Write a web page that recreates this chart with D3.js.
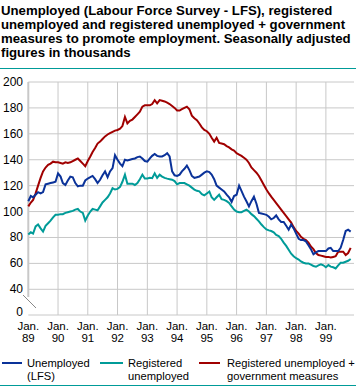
<!DOCTYPE html>
<html>
<head>
<meta charset="utf-8">
<script src="https://cdn.jsdelivr.net/npm/d3@7"></script>
<style>
  body { margin: 0; background: #fff; }
  text { font-family: "Liberation Sans", Arial, sans-serif; fill: #000; }
</style>
</head>
<body>
<script>
// monthly figures, Jan 1989 - Nov 1999 (thousands)
var lfs = [
  108, 112, 111, 113, 115, 114, 115, 121, 121.5, 122, 122.5, 123,
  129.5, 127, 122, 120.5, 124, 127, 126.5, 122, 119.5, 120, 120, 124,
  125.5, 126.5, 127.5, 125, 122, 124.5, 128, 131, 126.5, 131, 133.5, 143.5,
  140, 137, 135, 140, 139.5, 140, 140.5, 141, 142, 142.5, 141, 139,
  138.5, 141, 143, 144.5, 143, 142.5, 142.5, 143.5, 145, 142.5, 131, 128,
  127.5, 128.5, 131, 133, 135.5, 132, 127.5, 126, 126.5, 127, 128.5, 130,
  131, 130.5, 128.5, 125, 120, 118.5, 117, 115.5, 113, 111, 107.5, 112,
  113, 120, 116, 111.5, 108, 104, 108, 111.5, 106, 99, 98.5, 98,
  97.5, 96, 94, 95, 97, 94, 92, 92, 89, 86, 90, 87,
  83, 79, 78, 78, 77, 74, 71, 67, 68.5, 69.5, 69.5, 69.5,
  69.5, 71.5, 72, 69.5, 69.5, 69.5, 72, 78, 85, 86, 84.5
];
var registered = [
  82.3, 84, 83, 88.5, 90, 87, 84.5, 89, 91, 93, 95.5, 97.5,
  97.5, 98, 98, 99, 99.5, 100, 100.5, 101.5, 102, 100, 99, 93,
  97, 100, 102, 101.5, 101, 104, 107, 109, 111, 114, 118, 117,
  117.5, 119, 123, 128.5, 121.5, 121.5, 121.5, 120.5, 122, 125, 128.5, 125.5,
  125.5, 126, 125.8, 129.5, 126, 128.5, 127, 126, 125.4, 125, 124.6, 123.5,
  121, 122, 122, 122, 121, 120, 118.5, 117, 116, 115.6, 113.5, 112.5,
  114, 115.5, 111, 109, 111, 113, 109.5, 109, 108, 106.7, 104, 101.5,
  100, 99.5, 99.5, 100.5, 101.5, 100, 98, 96.5, 94.5, 92.5, 90, 88,
  86.2, 85.5, 85, 84, 82, 81, 79, 76, 73.5, 70.5, 67.5, 65.5,
  64, 63, 61.5, 60.5, 60, 60, 59, 58, 57.4, 58.5, 59.2, 58.5,
  57, 58.7, 57.5, 57, 56.1, 58.5, 60.5, 60.5, 61.3, 62, 63.4
];
var regPlusMeasures = [
  104, 107, 109, 114, 120, 126, 131, 134, 136, 137, 138.5, 138,
  138, 137.5, 137, 138, 137.5, 138, 139, 140, 141, 139, 137, 135,
  139, 142.5, 146, 149, 152.5, 154, 156, 158, 159.5, 160.5, 161.5, 162.5,
  163, 164, 166, 173, 168, 170, 171, 173, 175, 177, 181, 182,
  182, 182, 183, 186, 183.5, 186, 185.5, 185, 184, 183, 181.5, 180,
  178, 178, 179, 180, 181, 179, 174, 172, 170.5, 168, 165, 163,
  162, 160, 157, 154, 157, 153, 152.5, 152, 150.5, 149.5, 148, 147,
  145, 144, 143, 141.5, 140, 137.5, 134, 132, 130, 127.5, 124, 120.5,
  117, 114, 111.5, 109, 106.5, 104, 101.5, 99, 96.5, 94, 91.5, 88,
  85, 83, 80.5, 79, 78, 76, 73, 71, 68, 66.5, 66, 65.5,
  65, 65, 64.5, 65, 65.5, 69, 69, 69, 66.5, 68, 72
];
var yearLabels = ["89", "90", "91", "92", "93", "94", "95", "96", "97", "98", "99"];
var yTicks = [0, 40, 60, 80, 100, 120, 140, 160, 180, 200];
var titleLines = [
  "Unemployed (Labour Force Survey - LFS), registered",
  "unemployed and registered unemployed + government",
  "measures to promote employment. Seasonally adjusted",
  "figures in thousands"
];
var seriesNames = [["Unemployed", "(LFS)"], ["Registered", "unemployed"], ["Registered unemployed +", "government measures"]];

var W = 361, H = 387;
var teal = "#009b98", blue = "#0a3299", red = "#a00000", grid = "#c8c8c8";

var svg = d3.select("body").append("svg")
  .attr("width", W)
  .attr("height", H);

var x = d3.scaleTime()
  .domain([new Date(1989, 0, 1), new Date(1999, 11, 12)])
  .range([28.3, 354]);
// broken axis: 0 sits where 20 would be
var y = d3.scaleLinear()
  .domain([0, 40, 200])
  .range([315, 289.3, 82]);

// title
svg.append("g").selectAll("text")
  .data(titleLines)
  .enter().append("text")
  .attr("x", 1)
  .attr("y", function (d, i) { return 15 + i * 14; })
  .style("font-size", "13.2px")
  .style("font-weight", "bold")
  .text(function (d) { return d; });

svg.append("line")
  .attr("x1", 0).attr("x2", 356)
  .attr("y1", 68.5).attr("y2", 68.5)
  .style("stroke", teal).style("stroke-width", 1.2);

// grid
var years = yearLabels.map(function (d, i) { return new Date(1989 + i, 0, 1); });
svg.append("g").selectAll("line")
  .data(years.slice(1))
  .enter().append("line")
  .attr("x1", function (d) { return x(d); })
  .attr("x2", function (d) { return x(d); })
  .attr("y1", y(200)).attr("y2", y(0))
  .style("stroke", grid).style("stroke-width", 1);

svg.append("g").selectAll("line")
  .data(yTicks)
  .enter().append("line")
  .attr("x1", x.range()[0]).attr("x2", x.range()[1])
  .attr("y1", function (d) { return y(d); })
  .attr("y2", function (d) { return y(d); })
  .style("stroke", grid).style("stroke-width", 1);

// left axis with break
svg.append("line")
  .attr("x1", 28.3).attr("x2", 28.3)
  .attr("y1", y(200)).attr("y2", 297)
  .style("stroke", grid).style("stroke-width", 2);
var brk = svg.append("g");
[0, 3].forEach(function (o) {
  brk.append("line")
    .attr("x1", 23 + o).attr("y1", 298 + o - 3)
    .attr("x2", 33 + o).attr("y2", 308 + o - 3)
    .style("stroke", "#888").style("stroke-width", 1);
});

// y labels
svg.append("g").selectAll("text")
  .data(yTicks)
  .enter().append("text")
  .attr("x", 23)
  .attr("y", function (d) { return y(d) + (d === 0 ? 1 : 4); })
  .attr("text-anchor", "end")
  .style("font-size", "12px")
  .text(function (d) { return d; });

// x labels
var xl = svg.append("g").selectAll("text")
  .data(yearLabels)
  .enter().append("text")
  .attr("text-anchor", "middle")
  .style("font-size", "11.5px");
xl.append("tspan")
  .attr("x", function (d, i) { return x(years[i]); })
  .attr("y", 329.5)
  .text("Jan.");
xl.append("tspan")
  .attr("x", function (d, i) { return x(years[i]); })
  .attr("y", 342)
  .text(function (d) { return d; });

// lines
var line = d3.line()
  .x(function (d, i) { return x(new Date(1989, i, 1)); })
  .y(function (d) { return y(d); });

var series = [
  { values: regPlusMeasures, color: red },
  { values: lfs, color: blue },
  { values: registered, color: teal }
];
svg.append("g").selectAll("path")
  .data(series)
  .enter().append("path")
  .attr("d", function (d) { return line(d.values); })
  .style("fill", "none")
  .style("stroke", function (d) { return d.color; })
  .style("stroke-width", 2);

// legend
var legX = [[2, 22, 27], [100, 123, 128], [199, 220, 227]];
var legColors = [blue, teal, red];
var leg = svg.append("g").selectAll("g")
  .data(seriesNames)
  .enter().append("g");
leg.append("line")
  .attr("x1", function (d, i) { return legX[i][0]; })
  .attr("x2", function (d, i) { return legX[i][1]; })
  .attr("y1", 363).attr("y2", 363)
  .style("stroke", function (d, i) { return legColors[i]; })
  .style("stroke-width", 2);
leg.append("text")
  .style("font-size", "11.2px")
  .selectAll("tspan")
  .data(function (d, i) { return d.map(function (t) { return [t, i]; }); })
  .enter().append("tspan")
  .attr("x", function (d) { return legX[d[1]][2]; })
  .attr("y", function (d, j) { return 367 + j * 13; })
  .text(function (d) { return d[0]; });

svg.append("line")
  .attr("x1", 0).attr("x2", 356)
  .attr("y1", 385.5).attr("y2", 385.5)
  .style("stroke", teal).style("stroke-width", 1.2);
</script>
</body>
</html>
